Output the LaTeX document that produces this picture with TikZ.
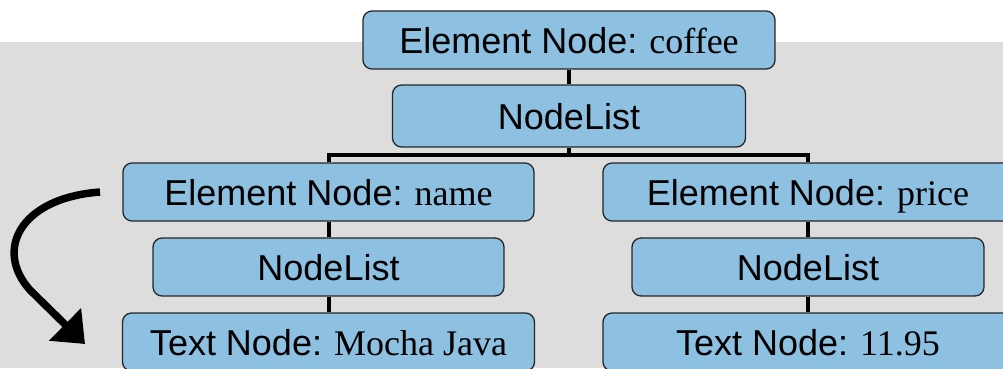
\documentclass[tikz,border=0pt]{standalone}
\usepackage{fontspec}
\setmainfont{Liberation Serif}
\newfontfamily\arialfont{Liberation Sans}
\usetikzlibrary{arrows.meta}
\definecolor{nodeblue}{RGB}{141,192,225}
\definecolor{panelgray}{RGB}{221,221,221}

\begin{document}
\begin{tikzpicture}[x=1pt,y=-1pt,
    domnode/.style={draw=black!85,line width=1.3pt,fill=nodeblue,
        rounded corners=9pt,minimum height=58pt,inner sep=0pt,
        text height=26pt,text depth=0pt,
        font=\fontsize{36}{40}\selectfont},
    link/.style={line width=4pt,black},
    flow/.style={line width=7.5pt,black,-{Triangle[length=28pt,width=44pt]}}]
    \useasboundingbox (0,0) rectangle (1003,368);
    \clip (0,0) rectangle (1003,368);
    \fill[panelgray] (0,42) rectangle (1003,368);

    \node[domnode,minimum width=412pt] (coffee) at (569,40)
        {{\arialfont Element Node:} coffee};
    \node[domnode,minimum width=353pt,minimum height=62pt] (rootlist) at (569,116)
        {\arialfont NodeList};

    \node[domnode,minimum width=411pt] (name) at (328.5,192)
        {{\arialfont Element Node:} name};
    \node[domnode,minimum width=410pt] (price) at (808,192)
        {{\arialfont Element Node:} price};

    \node[domnode,minimum width=351pt] (namelist) at (328.5,267)
        {\arialfont NodeList};
    \node[domnode,minimum width=352pt] (pricelist) at (808,267)
        {\arialfont NodeList};

    \node[domnode,minimum width=412pt] (mocha) at (328.5,342)
        {{\arialfont Text Node:} Mocha Java};
    \node[domnode,minimum width=410pt] (cost) at (808,342)
        {{\arialfont Text Node:} 11.95};

    \coordinate (bar) at (569,155);
    \draw[link] (coffee) -- (rootlist);
    \draw[link] (rootlist) -- (bar);
    \draw[link] (name) |- (bar) -| (price);
    \draw[link] (name) -- (namelist) -- (mocha);
    \draw[link] (price) -- (pricelist) -- (cost);

    \coordinate (flowstart) at (100,192);
    \coordinate (flowend) at (85,344);
    \draw[flow] (flowstart) .. controls (20,198) and (-6,250) .. (30,290) -- (flowend);
\end{tikzpicture}
\end{document}
